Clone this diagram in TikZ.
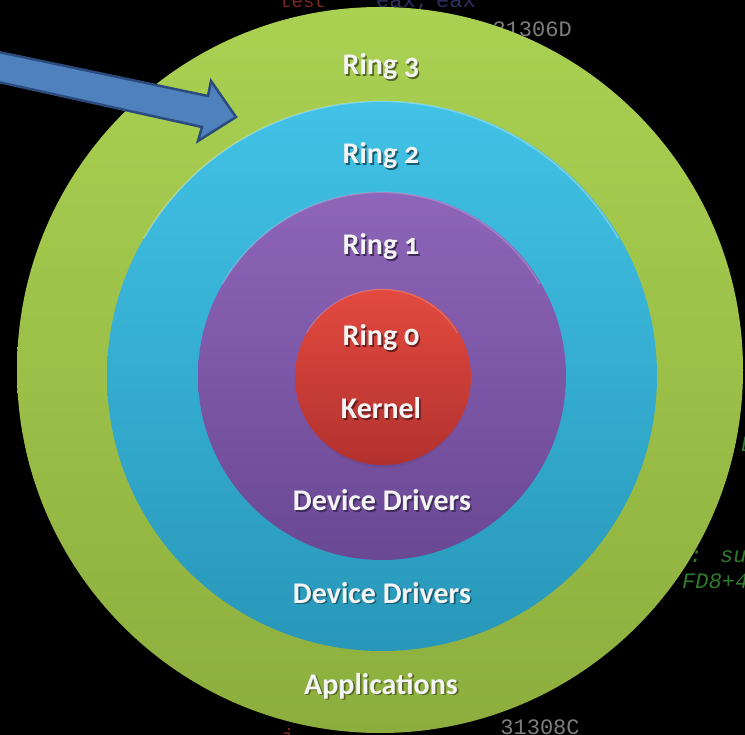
\documentclass[tikz,border=0pt]{standalone}
\usepackage{fontspec}
\setmainfont{Carlito}[Numbers=OldStyle]
\newfontfamily\codefont{Liberation Mono}
\usetikzlibrary{shadows}

\definecolor{greenTop}{HTML}{AAD152}
\definecolor{greenBot}{HTML}{8DAE3E}
\definecolor{cyanTop}{HTML}{41C2E6}
\definecolor{cyanBot}{HTML}{2897B9}
\definecolor{purpleTop}{HTML}{8E65B9}
\definecolor{purpleBot}{HTML}{6A4894}
\definecolor{redTop}{HTML}{E34A40}
\definecolor{redBot}{HTML}{B2312E}
\definecolor{arrowFill}{HTML}{4F81BD}
\definecolor{arrowLine}{HTML}{2A4B7C}
\definecolor{labelText}{HTML}{F4F4F4}
\definecolor{codeGrey}{HTML}{7E7E7E}
\definecolor{codeRed}{HTML}{7A2820}
\definecolor{codeBlue}{HTML}{2E2E5E}
\definecolor{codeGreen}{HTML}{2F7A2F}

% label text with a soft offset shadow
\newcommand\shadowed[2]{\makebox[0pt][l]{\hspace{1.6pt}\raisebox{-1.6pt}{\color{#2}#1}}#1}

\tikzset{
  ring/.style={circle, inner sep=0pt, draw=none},
  innerring/.style={ring,
    circular drop shadow={shadow xshift=0pt, shadow yshift=-6pt, shadow scale=0.97,
      opacity=0.3, fill=black}},
  ringlabel/.style={anchor=base, inner sep=0pt, text=labelText,
    font=\fontsize{30}{30}\selectfont\bfseries},
  code/.style={anchor=base west, inner sep=0pt, font=\codefont\fontsize{22}{22}\selectfont},
  codeit/.style={code, text=codeGreen, font=\codefont\itshape\fontsize{22}{22}\selectfont},
}

\begin{document}
\begin{tikzpicture}[x=1pt, y=-1pt]
\useasboundingbox (0,0) rectangle (745,735);
\clip (0,0) rectangle (745,735);
\fill[black] (0,0) rectangle (745,735);

% disassembly listing behind the diagram
\node[code, text=codeRed, font=\codefont\fontsize{19}{19}\selectfont] (c1) at (280,8) {test};
\node[code, text=codeBlue] (c2) at (376,8) {eax,};
\node[code, text=codeBlue] (c3) at (436,8) {eax};
\node[code, text=codeGrey, anchor=base east] (c4) at (572,37) {loc\_31306D};
\node[codeit] (c5) at (741,452) {E};
\node[codeit, anchor=base east] (c6) at (760,562) {var: sub};
\node[codeit] (c7) at (682,588) {FD8+49};
\node[code, text=codeRed] (c9) at (281,744) {j};

% privilege rings
\node[ring, minimum size=726pt, top color=greenTop, bottom color=greenBot] (ring3) at (380,370) {};
\node[innerring, minimum size=550pt, top color=cyanTop, bottom color=cyanBot] (ring2) at (382,376) {};
\node[innerring, minimum size=368pt, top color=purpleTop, bottom color=purpleBot] (ring1) at (382,376) {};
\node[innerring, minimum size=176pt, top color=redTop, bottom color=redBot] (ring0) at (383,377) {};

% listing line that shows below the outer ring
\node[code, text=codeGrey] (c8) at (487,734) {\_31308C};

% thin highlight on the upper rims
\draw[white, opacity=0.3, line width=1.5pt] (ring2.150) arc[start angle=150, end angle=30, radius=274pt];
\draw[white, opacity=0.2, line width=1.5pt] (ring1.150) arc[start angle=150, end angle=30, radius=183pt];
\draw[white, opacity=0.2, line width=1.2pt] (ring0.150) arc[start angle=150, end angle=30, radius=87pt];

% ring labels
\node[ringlabel] (l3) at (381,75) {\shadowed{Ring 3}{greenBot!60!black}};
\node[ringlabel] (l2) at (381,164) {\shadowed{Ring 2}{cyanBot!60!black}};
\node[ringlabel] (l1) at (381,255) {\shadowed{Ring 1}{purpleBot!60!black}};
\node[ringlabel] (l0) at (381,346) {\shadowed{Ring 0}{redBot!60!black}};
\node[ringlabel] (lk) at (381,419) {\shadowed{Kernel}{redBot!60!black}};
\node[ringlabel] (ld1) at (382,511) {\shadowed{Device Drivers}{purpleBot!60!black}};
\node[ringlabel] (ld2) at (382,603) {\shadowed{Device Drivers}{cyanBot!60!black}};
\node[ringlabel] (lap) at (381,694) {\shadowed{Applications}{greenBot!60!black}};

% block arrow pointing at ring 2
\coordinate (a1) at (-6,51);
\coordinate (a2) at (208,96);
\coordinate (a3) at (211,81);
\coordinate (tip) at (236,117);
\coordinate (a5) at (198,141);
\coordinate (a6) at (202,127);
\coordinate (a7) at (-6,81);
\draw[fill=arrowFill, draw=arrowLine, line width=2.5pt, line join=miter]
  (a1) -- (a2) -- (a3) -- (tip) -- (a5) -- (a6) -- (a7) -- cycle;
\end{tikzpicture}
\end{document}
